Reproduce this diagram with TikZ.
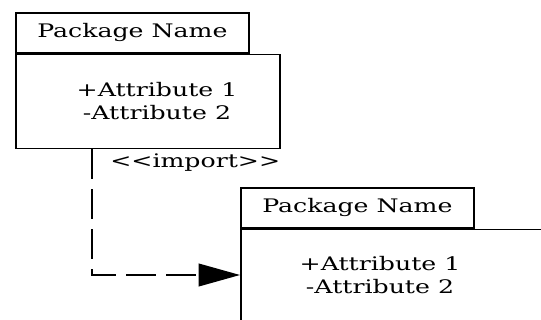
\documentclass[tikz,border=0pt]{standalone}
\usepackage{fontspec}
\setmainfont{DejaVu Serif}[FakeStretch=1.35]
\usetikzlibrary{arrows.meta,positioning}
\newcommand\pkgfont{\fontsize{14}{17.3}\selectfont}

\begin{document}
\begin{tikzpicture}[x=0.75pt,y=-0.75pt,
    pkgtab/.style={rectangle, draw, line width=1.3pt, minimum width=174.75pt, minimum height=30pt,
      inner sep=0pt, anchor=north west, font=\pkgfont},
    pkgbody/.style={rectangle, draw, line width=1.3pt, inner sep=0pt, anchor=north west},
    attrs/.style={align=center, inner sep=0pt, font=\pkgfont},
    importline/.style={line width=1.3pt, dash pattern=on 22pt off 8pt,
      -{Triangle[length=31pt,width=17pt]}}
  ]
  \useasboundingbox (0,0) rectangle (541,320);
  \clip (0,0) rectangle (541,320);

  % importing package
  \node[pkgtab] (tab1) at (15,12) {Package Name};
  \node[pkgbody, minimum width=198pt, minimum height=70.5pt] (body1) at (tab1.south west) {};
  \node[attrs] (attr1) at (157,101) {+Attribute 1\\-Attribute 2};

  % imported package
  \node[pkgtab] (tab2) at (240,187) {Package Name};
  \node[pkgbody, minimum width=240pt, minimum height=97.5pt] (body2) at (tab2.south west) {};
  \node[attrs] (attr2) at (380,275) {+Attribute 1\\-Attribute 2};

  % dependency
  \coordinate (bend) at (92,275);
  \draw[importline] (body1.south -| bend) -- (bend) -- (bend -| body2.west);
  \node[anchor=west, inner sep=0pt, font=\pkgfont] (importlbl) at (110,163) {{<}{<}import{>}{>}};
\end{tikzpicture}
\end{document}
